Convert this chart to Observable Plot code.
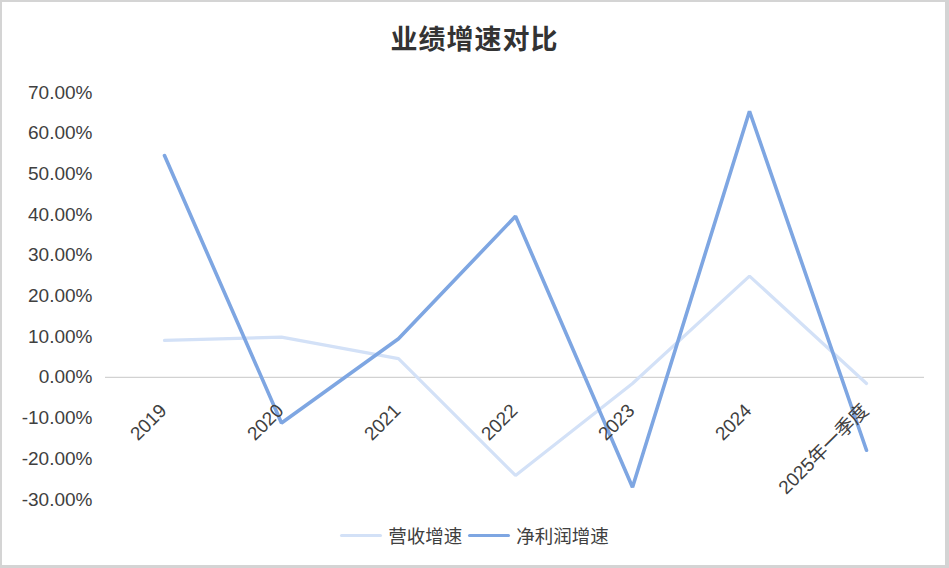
<!DOCTYPE html>
<html><head><meta charset="utf-8">
<script src="https://cdn.jsdelivr.net/npm/d3@7"></script>
<script src="https://cdn.jsdelivr.net/npm/@observablehq/plot@0.6"></script>
<style>
body{margin:0;background:#fff;width:949px;height:568px;overflow:hidden;position:relative;}
#frame{position:absolute;left:0;top:0;width:949px;height:568px;box-sizing:border-box;border-top:2px solid #d4d4d4;border-left:2px solid #d4d4d4;border-right:4px solid #d4d4d4;border-bottom:3px solid #d4d4d4;}
#title{position:absolute;top:20px;left:0;width:949px;text-align:center;font-family:"Noto Sans CJK SC",sans-serif;font-weight:bold;font-size:27px;color:#333;line-height:36px;letter-spacing:1px;}
#chart{position:absolute;top:60px;left:0;}
#legend{position:absolute;top:520px;left:0;width:949px;display:flex;justify-content:center;align-items:center;font-family:"Noto Sans CJK SC",sans-serif;font-size:18.5px;color:#404040;line-height:30px;}
.sw{display:inline-block;width:42px;height:3px;border-radius:2px;margin-right:6px;}
.it{display:flex;align-items:center;margin:0 3px;}
</style></head>
<body>
<div id="frame"></div>
<div id="title">业绩增速对比</div>
<div id="chart"></div>
<div id="legend"></div>
<script>
const categories = ["2019","2020","2021","2022","2023","2024","2025年一季度"];
const revenueGrowth = [9.1, 9.9, 4.6, -24.1, -1.5, 24.9, -1.5];
const profitGrowth = [54.5, -11.2, 9.5, 39.6, -27.0, 65.4, -17.9];
const yTicks = [-30,-20,-10,0,10,20,30,40,50,60,70];
const seriesNames = ["营收增速","净利润增速"];
const colors = ["#d3e1f7","#7ea6e2"];

const rev = categories.map((c,i)=>({c, v: revenueGrowth[i]}));
const prof = categories.map((c,i)=>({c, v: profitGrowth[i]}));

const chart = Plot.plot({
  width: 949, height: 450,
  marginTop: 32, marginBottom: 11, marginLeft: 105, marginRight: 25,
  style: {fontFamily: '"Liberation Sans", Arial, "Noto Sans CJK SC", sans-serif', color: "#404040", background: "transparent"},
  x: {type: "point", domain: categories, padding: 0.5, axis: null},
  y: {domain: [-30, 70], axis: null},
  marks: [
    Plot.axisY({ticks: yTicks, tickSize: 0, tickPadding: 13, tickFormat: d => d.toFixed(2) + "%", fontSize: 19, fill: "#404040", label: null}),
    Plot.ruleY([0], {stroke: "#d2d2d2", strokeWidth: 1.3}),
    Plot.line(rev, {x: "c", y: "v", stroke: colors[0], strokeWidth: 3.2, strokeLinejoin: "miter"}),
    Plot.line(prof, {x: "c", y: "v", stroke: colors[1], strokeWidth: 3.6, strokeLinejoin: "miter"}),
    Plot.text(categories, {x: d => d, y: () => 0, text: d => d, rotate: -45, textAnchor: "end", dy: 30, dx: -1, fontSize: 19, fill: "#404040", fontFamily: '"Liberation Sans", Arial, "Noto Sans CJK SC", sans-serif'})
  ]
});
document.getElementById("chart").appendChild(chart);

const lg = document.getElementById("legend");
seriesNames.forEach((n,i)=>{
  const it = document.createElement("span"); it.className = "it";
  const sw = document.createElement("span"); sw.className = "sw"; sw.style.background = colors[i];
  const tx = document.createElement("span"); tx.textContent = n;
  it.appendChild(sw); it.appendChild(tx); lg.appendChild(it);
});
</script>
</body></html>
